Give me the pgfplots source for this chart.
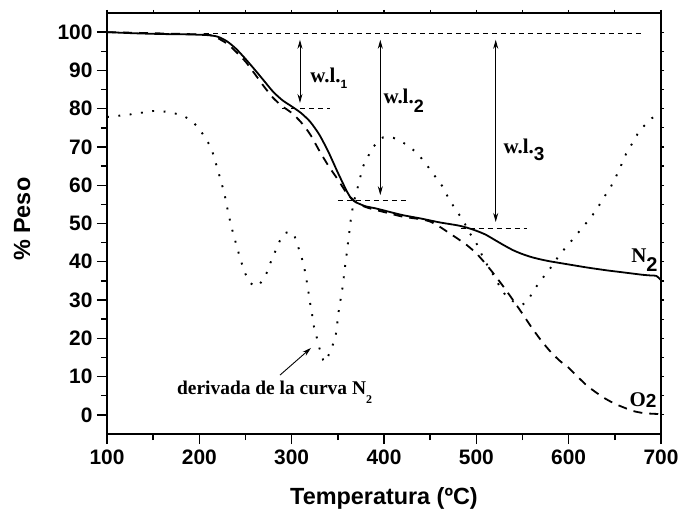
\documentclass[border=0pt]{standalone}
\usepackage{fontspec}
\setmainfont{Liberation Serif}
\setsansfont{Liberation Sans}
\usepackage{pgfplots}
\pgfplotsset{compat=1.18}
\usetikzlibrary{arrows.meta}

\newcommand\tf{\fontsize{21}{25}\selectfont\sffamily\bfseries}
\newcommand\wl[3]{{\fontsize{21}{25}\selectfont\rmfamily\bfseries w.l.}{\fontsize{#2}{#2}\selectfont\sffamily\bfseries\raisebox{#3}{#1}}}

\tikzset{
  refl/.style={line width=0.8bp,dash pattern=on 5bp off 4bp},
  wlarr/.style={line width=0.9bp,{Stealth[length=9bp,width=5bp]}-{Stealth[length=9bp,width=5bp]}},
}

\begin{document}
\begin{tikzpicture}
% small ticks on top and right
\begin{axis}[
  scale only axis,
  width=554bp, height=421bp,
  xmin=100, xmax=700, ymin=-5, ymax=105,
  xtick={100,200,...,700}, minor x tick num=1,
  ytick={0,10,...,100}, minor y tick num=1,
  xtick pos=right, ytick pos=right,
  tick align=outside,
  major tick length=3bp, minor tick length=3bp,
  every tick/.style={line width=1.2bp,black},
  xticklabels={}, yticklabels={},
  axis line style={draw=none},
]
\end{axis}
\begin{axis}[
  scale only axis,
  width=554bp, height=421bp,
  xmin=100, xmax=700, ymin=-5, ymax=105,
  xtick={100,200,...,700}, minor x tick num=1,
  ytick={0,10,...,100}, minor y tick num=1,
  xtick pos=left, ytick pos=left,
  tick align=outside,
  major tick length=10bp, minor tick length=6bp,
  every tick/.style={line width=1.4bp,black},
  axis line style={line width=1.6bp},
  /pgf/number format/assume math mode=true,
  ticklabel style={font=\tf},
  xticklabel style={yshift=-2bp},
  yticklabel style={xshift=-1bp},
  xlabel={Temperatura (ºC)},
  ylabel={\% Peso},
  label style={font=\fontsize{23.5}{27}\selectfont\sffamily\bfseries},
  xlabel style={at={(axis description cs:0.5,-0.1686)},anchor=base},
  ylabel style={at={(axis description cs:-0.1534,0.51)},anchor=center},
  clip=false,
]
% N2 curve (solid)
\addplot[black,line width=1.8bp,smooth,tension=0.4] coordinates {
  (100,100.0)(130,99.7)(160,99.5)(190,99.4)(210,99.2)(220,98.8)(230,97.6)
  (240,95.6)(250,93.0)(260,90.2)(270,87.3)(280,84.4)(290,82.2)(300,80.6)
  (310,78.9)(320,76.6)(330,73.2)(340,68.6)(350,63.3)(360,58.3)(365,56.4)
  (370,55.5)(380,54.5)(390,54.0)(400,53.4)(420,52.2)(440,51.3)(460,50.3)
  (480,49.5)(490,48.9)(500,48.1)(510,47.1)(520,45.7)(530,44.3)(540,43.0)
  (550,42.0)(560,41.2)(570,40.6)(580,40.1)(600,39.3)(620,38.5)(640,37.8)
  (660,37.2)(680,36.6)(690,36.4)(695,36.3)(700,35.2)};
% O2 curve (dashed)
\addplot[black,line width=1.8bp,dash pattern=on 9bp off 7bp,smooth,tension=0.4] coordinates {
  (100,100.0)(200,99.4)(215,99.0)(230,97.0)(240,94.8)(250,92.3)(260,89.1)
  (270,85.8)(280,82.8)(290,80.6)(300,78.9)(310,76.5)(320,73.3)(330,69.0)
  (340,65.0)(350,61.5)(360,57.8)(370,55.5)(380,54.3)(390,53.6)(400,53.0)
  (420,51.8)(440,51.1)(450,50.5)(460,49.2)(470,47.6)(480,46.0)(490,44.3)
  (500,42.2)(510,39.5)(520,36.5)(530,33.3)(540,29.9)(550,26.4)(560,22.8)
  (570,19.5)(580,16.6)(590,14.2)(600,12.3)(610,9.9)(620,7.6)(630,5.8)
  (640,4.2)(650,2.9)(660,1.9)(670,1.0)(680,0.5)(690,0.3)(700,0.2)};
% derivative of the N2 curve (dotted)
\addplot[black,line width=1.9bp,dash pattern=on 1.9bp off 9.5bp] coordinates {
  (100,77.8)(125,78.5)(150,79.4)(165,79.2)(180,78.4)(190,77.2)(198,75.3)
  (206,72.6)(213,69.7)(220,64.0)(227,58.0)(232,52.0)(236,48.0)(240,44.5)
  (245,40.2)(250,36.8)(255,34.5)(260,33.6)(265,34.0)(272,36.5)(277,39.7)
  (282,42.6)(287,45.4)(293,47.5)(298,47.9)(303,46.8)(307,43.9)(311,41.0)
  (314,38.0)(317,34.0)(320,29.2)(322,26.4)(324,23.2)(327,20.4)(330,17.5)
  (334,14.4)(337,13.8)(342,16.8)(347,19.8)(349,22.7)(350,25.6)(352,28.7)
  (354,31.6)(356,34.7)(357,37.6)(359,40.5)(360,43.3)(362,46.5)(363,49.3)
  (365,52.5)(367,55.4)(370,58.0)(373,60.8)(377,64.8)(388,70.0)(399,72.5)
  (410,72.4)(424,70.7)(436,68.4)(446,65.4)(455,62.4)(464,59.5)(470,56.5)
  (478,53.5)(486,50.7)(492,47.8)(500,44.9)(506,41.8)(513,38.6)(520,36.0)
  (526,33.2)(533,30.8)(542,29.3)(550,28.8)(555,29.6)(564,33.2)(572,35.8)
  (582,38.9)(590,41.8)(600,44.6)(611,47.8)(621,50.7)(630,53.5)(637,56.4)
  (645,59.3)(651,62.1)(657,65.3)(662,68.1)(669,71.0)(677,74.4)(690,77.5)
  (699,78.8)};

% weight-loss reference lines and arrows
\draw[refl] (axis cs:205,99.6) -- (axis cs:680,99.6);
\draw[refl] (axis cs:290,80) -- (axis cs:342,80);
\draw[refl] (axis cs:350,56.1) -- (axis cs:425,56.1);
\draw[refl] (axis cs:483,48.8) -- (axis cs:555,48.8);
\draw[wlarr] (axis cs:309,98) -- (axis cs:309,81.5);
\draw[wlarr] (axis cs:396,98) -- (axis cs:396,57.4);
\draw[wlarr] (axis cs:521,98) -- (axis cs:521,50.4);

\node[anchor=base west,inner sep=0] at (axis cs:320,86.8) {\wl{1}{12}{-6bp}};
\node[anchor=base west,inner sep=0] at (axis cs:399.3,81.4) {\wl{2}{18}{-9bp}};
\node[anchor=base west,inner sep=0] at (axis cs:529.4,68.3) {\wl{3}{19}{-7bp}};

\node[anchor=base west,inner sep=0] at (axis cs:667.7,39.8)
  {{\fontsize{21}{25}\selectfont\rmfamily\bfseries N}{\fontsize{20}{20}\selectfont\sffamily\bfseries\raisebox{-8.5bp}{2}}};
\node[anchor=base west,inner sep=0] at (axis cs:665.9,2.2)
  {{\fontsize{21}{25}\selectfont\rmfamily\bfseries O}{\fontsize{19}{19}\selectfont\sffamily\bfseries\raisebox{-1.5bp}{2}}};

\draw[line width=0.9bp,-{Stealth[length=9bp,width=5bp]}] (axis cs:287.4,10.4) -- (axis cs:321,17.5);
\node[anchor=base west,inner sep=0] at (axis cs:175.8,5.2)
  {\fontsize{19.5}{23}\selectfont\rmfamily\bfseries derivada de la curva N{\fontsize{12}{12}\selectfont\raisebox{-9bp}{2}}};
\end{axis}
\pgfresetboundingbox
\path ([shift={(-107bp,-77bp)}]current axis.south west) rectangle ([shift={(20bp,13bp)}]current axis.north east);
\end{tikzpicture}
\end{document}
